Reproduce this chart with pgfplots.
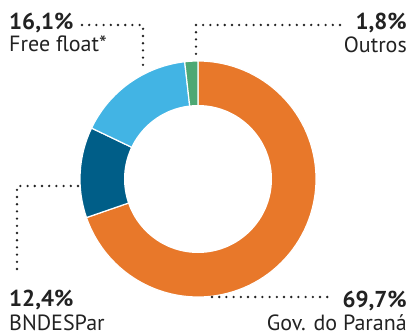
\documentclass[border=0pt]{standalone}
\usepackage{pgfplots}
\pgfplotsset{compat=1.18}
\usepackage{fontspec}
\setmainfont{PT Sans}
\definecolor{orng}{HTML}{E8782A}
\definecolor{lblue}{HTML}{42B4E4}
\definecolor{dblue}{HTML}{005E88}
\definecolor{grn}{HTML}{4DA874}
\definecolor{txt}{HTML}{222222}
% shares in percent, clockwise from 12 o'clock
\def\vGov{69.7}
\def\vBnd{12.4}
\def\vFree{16.1}
\def\vOut{1.8}
\begin{document}
\begin{tikzpicture}
\begin{axis}[
  x=1bp, y=1bp, xmin=0, xmax=414, ymin=0, ymax=336,
  hide axis, clip=false, scale only axis,
]
\path (axis cs:0,0) (axis cs:414,336);
\def\cx{198}\def\cy{157}
\pgfmathsetmacro{\aA}{90}
\pgfmathsetmacro{\aB}{\aA-3.6*\vGov}
\pgfmathsetmacro{\aC}{\aB-3.6*\vBnd}
\pgfmathsetmacro{\aD}{\aC-3.6*\vFree}
\pgfmathsetmacro{\aE}{\aD-3.6*\vOut}
\fill[orng, draw=white, line width=1.2bp] (axis cs:\cx,\cy) -- ++(\aA:118bp) arc[start angle=\aA, end angle=\aB, radius=118bp] -- cycle;
\fill[dblue, draw=white, line width=1.2bp] (axis cs:\cx,\cy) -- ++(\aB:118bp) arc[start angle=\aB, end angle=\aC, radius=118bp] -- cycle;
\fill[lblue, draw=white, line width=1.2bp] (axis cs:\cx,\cy) -- ++(\aC:118bp) arc[start angle=\aC, end angle=\aD, radius=118bp] -- cycle;
\fill[grn, draw=white, line width=1.2bp] (axis cs:\cx,\cy) -- ++(\aD:118bp) arc[start angle=\aD, end angle=\aE, radius=118bp] -- cycle;
\fill[white] (axis cs:\cx,\cy) circle[radius=74bp];
% leaders
\tikzset{lead/.style={txt, line width=2.6bp, line cap=round, dash pattern=on 0bp off 7.2bp}}
\draw[lead] (axis cs:82,311) -- (axis cs:143,311) -- (axis cs:143,268);
\draw[lead] (axis cs:340,311) -- (axis cs:196,311) -- (axis cs:196,276);
\draw[lead] (axis cs:78,150) -- (axis cs:17,150) -- (axis cs:17,62);
\draw[lead] (axis cs:212,39) -- (axis cs:328,39);
% labels
\tikzset{pct/.style={txt, inner sep=0pt, font=\fontsize{23bp}{26bp}\selectfont\bfseries},
         nm/.style={txt, inner sep=0pt, font=\fontsize{22bp}{26bp}\selectfont}}
\node[pct, anchor=base west] at (axis cs:9,307) {16,1\%};
\node[nm, anchor=base west] at (axis cs:9,285) {Free float*};
\node[pct, anchor=base east] at (axis cs:407,307) {1,8\%};
\node[nm, anchor=base east] at (axis cs:407,284) {Outros};
\node[pct, anchor=base west] at (axis cs:9,30) {12,4\%};
\node[nm, anchor=base west] at (axis cs:9,6) {BNDESPar};
\node[pct, anchor=base east] at (axis cs:407,29) {69,7\%};
\node[nm, anchor=base east] at (axis cs:407,6) {Gov. do Paraná};
\end{axis}
\end{tikzpicture}
\end{document}
